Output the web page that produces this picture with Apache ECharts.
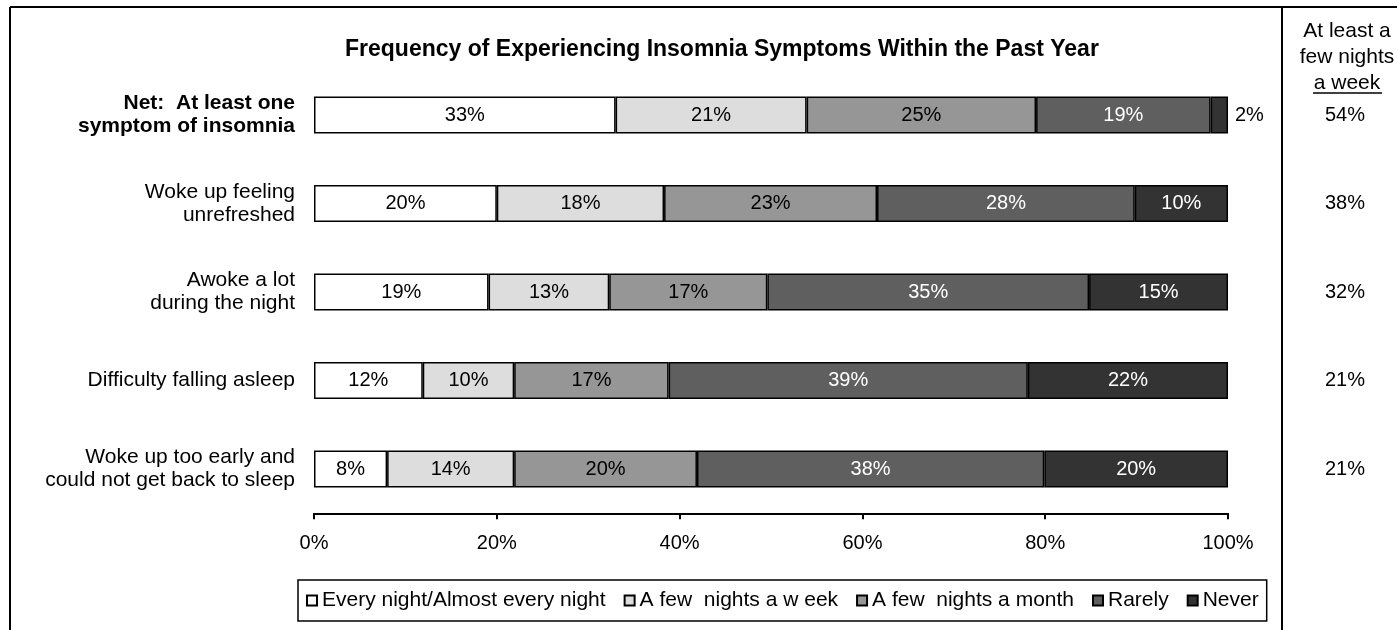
<!DOCTYPE html>
<html>
<head>
<meta charset="utf-8">
<script src="https://cdn.jsdelivr.net/npm/echarts@6/dist/echarts.min.js"></script>
<style>
  html, body { margin: 0; padding: 0; background: #fff; }
  #chart { width: 1397px; height: 630px; }
</style>
</head>
<body>
<div id="chart"></div>
<script>
// rows, top to bottom
var symptoms = [
    'Net:  At least one\nsymptom of insomnia',
    'Woke up feeling\nunrefreshed',
    'Awoke a lot\nduring the night',
    'Difficulty falling asleep',
    'Woke up too early and\ncould not get back to sleep'
];
var seriesNames = ['Every night/Almost every night', 'A few  nights a w eek', 'A few  nights a month', 'Rarely', 'Never'];
var colors = ['#ffffff', '#dddddd', '#969696', '#5f5f5f', '#333333'];
var labelColors = ['#000', '#000', '#000', '#fff', '#fff'];

// share per row (labels show them rounded)
var everyNight = [33.0, 20.0, 19.1, 11.9, 8.0];
var fewWeek    = [20.9, 18.3, 13.2, 10.0, 13.9];
var fewMonth   = [25.1, 23.3, 17.3, 16.9, 20.0];
var rarely     = [19.1, 28.2, 35.2, 39.3, 38.0];
var never      = [1.9, 10.2, 15.2, 21.9, 20.1];
var atLeastWeekly = [54, 38, 32, 21, 21];
var xTicks = [0, 20, 40, 60, 80, 100];

var values = [everyNight, fewWeek, fewMonth, rarely, never];
var FONT = 'Arial, "Liberation Sans", sans-serif';

var chart = echarts.init(document.getElementById('chart'));

var series = values.map(function (arr, i) {
    return {
        name: seriesNames[i],
        type: 'bar',
        stack: 'total',
        barWidth: 37,
        itemStyle: { color: colors[i], borderColor: '#000', borderWidth: 1.5 },
        label: {
            show: true,
            position: 'inside',
            color: labelColors[i],
            fontFamily: FONT,
            fontSize: 20,
            formatter: function (p) { return Math.round(p.value) + '%'; }
        },
        data: arr.map(function (v) {
            // too thin to hold its label: put it beside the bar
            if (v < 5) {
                return { value: v, label: { position: 'right', color: '#000', distance: 7 } };
            }
            return v;
        })
    };
});

var headerText = function (txt, y) {
    return {
        type: 'text', x: 1347, y: y,
        style: { text: txt, font: '21px ' + FONT, fill: '#000', textAlign: 'center', textVerticalAlign: 'middle' }
    };
};

var option = {
    backgroundColor: '#fff',
    animation: false,
    title: {
        text: 'Frequency of Experiencing Insomnia Symptoms Within the Past Year',
        left: 340, top: 33,
        textStyle: { fontFamily: FONT, fontSize: 23, fontWeight: 'bold', color: '#000' }
    },
    legend: {
        data: seriesNames,
        left: 298, top: 580,
        padding: [10, 8],
        itemGap: 18,
        itemWidth: 10, itemHeight: 10,
        icon: 'rect',
        borderColor: '#000', borderWidth: 1.5,
        textStyle: { fontFamily: FONT, fontSize: 21, color: '#000' }
    },
    grid: { left: 314, width: 914, top: 70.75, height: 442.5 },
    xAxis: {
        type: 'value', min: 0, max: 100, interval: 20,
        splitLine: { show: false },
        axisLine: { show: true, lineStyle: { color: '#000', width: 2 } },
        axisTick: { show: true, length: 6, lineStyle: { color: '#000', width: 2 } },
        axisLabel: {
            margin: 20, color: '#000', fontFamily: FONT, fontSize: 20,
            formatter: function (v) { return xTicks.indexOf(v) >= 0 ? v + '%' : ''; }
        }
    },
    yAxis: [
        {
            type: 'category', inverse: true, data: symptoms,
            axisLine: { show: false }, axisTick: { show: false },
            axisLabel: {
                margin: 19, color: '#000', fontFamily: FONT, fontSize: 21, lineHeight: 23,
                formatter: function (v, i) { return i === 0 ? '{b|' + v.split('\n').join('}\n{b|') + '}' : v; },
                rich: { b: { fontWeight: 'bold', fontFamily: FONT, fontSize: 21, lineHeight: 23, color: '#000' } }
            }
        },
        {
            type: 'category', inverse: true, position: 'right', data: symptoms,
            axisLine: { show: false }, axisTick: { show: false },
            axisLabel: {
                margin: 117, align: 'center', color: '#000', fontFamily: FONT, fontSize: 20,
                formatter: function (v, i) { return atLeastWeekly[i] + '%'; }
            }
        }
    ],
    graphic: [
        { type: 'line', shape: { x1: 10, y1: 7, x2: 1397, y2: 7 }, style: { stroke: '#000', lineWidth: 2 } },
        { type: 'line', shape: { x1: 10, y1: 7, x2: 10, y2: 630 }, style: { stroke: '#000', lineWidth: 2 } },
        { type: 'line', shape: { x1: 1282, y1: 7, x2: 1282, y2: 630 }, style: { stroke: '#000', lineWidth: 2 } },
        headerText('At least a', 31),
        headerText('few nights', 57),
        headerText('a week', 83),
        { type: 'line', shape: { x1: 1313, y1: 93, x2: 1382, y2: 93 }, style: { stroke: '#000', lineWidth: 1.5 } }
    ],
    series: series
};

chart.setOption(option);
</script>
</body>
</html>
